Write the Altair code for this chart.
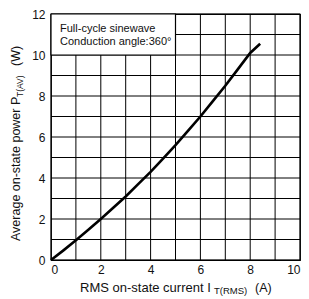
import altair as alt
import pandas as pd

# Curve
current = [0, 0.5, 1, 1.5, 2, 2.5, 3, 3.5, 4, 4.5, 5, 5.5, 6, 6.5, 7, 7.5, 8, 8.4]
power = [0, 0.47, 0.96, 1.47, 2.0, 2.55, 3.1, 3.7, 4.3, 4.95, 5.6, 6.3, 7.0, 7.75, 8.5, 9.3, 10.1, 10.55]

x_ticks = list(range(0, 11))
y_ticks = list(range(0, 13))

note_lines = ["Full-cycle sinewave", "Conduction angle:360°"]
box = {"x": 0, "x2": 5, "y": 10, "y2": 12}

FONT = "Liberation Sans"
W, H = 249, 246

df = pd.DataFrame({"I": current, "P": power})

xscale = alt.Scale(domain=[0, 10], nice=False)
yscale = alt.Scale(domain=[0, 12], nice=False)

xaxis = alt.Axis(values=x_ticks, grid=False, ticks=False, domain=False, title=None,
                 labelFont=FONT, labelFontSize=12, labelColor="#111", labelPadding=4,
                 labelExpr="datum.value % 2 == 0 ? datum.label : ''")
yaxis = alt.Axis(values=y_ticks, grid=False, ticks=False, domain=False, title=None,
                 labelFont=FONT, labelFontSize=12, labelColor="#111", labelPadding=6,
                 labelExpr="datum.value % 2 == 0 ? datum.label : ''")

vgrid = alt.Chart(pd.DataFrame({"v": x_ticks})).mark_rule(color="#000", strokeWidth=1).encode(
    x=alt.X("v:Q", scale=xscale, axis=xaxis), y=alt.value(0), y2=alt.value(H))
hgrid = alt.Chart(pd.DataFrame({"v": y_ticks})).mark_rule(color="#000", strokeWidth=1).encode(
    y=alt.Y("v:Q", scale=yscale, axis=yaxis), x=alt.value(0), x2=alt.value(W))

curve = alt.Chart(df).mark_line(color="#000", strokeWidth=2.6).encode(
    x=alt.X("I:Q", scale=xscale),
    y=alt.Y("P:Q", scale=yscale),
)

box_df = pd.DataFrame([box])
rect = alt.Chart(box_df).mark_rect(fill="white", stroke="#000", strokeWidth=1.2).encode(
    x=alt.X("x:Q", scale=xscale), x2="x2:Q",
    y=alt.Y("y:Q", scale=yscale), y2="y2:Q",
)

def txt(s, x, y, size, angle=0, baseline="alphabetic"):
    return alt.Chart(pd.DataFrame({"t": [s]})).mark_text(
        text=s, font=FONT, fontSize=size, color="#111", align="left",
        baseline=baseline, angle=angle,
    ).encode(x=alt.value(x), y=alt.value(y))

layers = [vgrid, hgrid, curve, rect,
          txt(note_lines[0], 9, 18, 11),
          txt(note_lines[1], 9, 30.5, 11),
          # x title
          txt("RMS on-state current  I", 29, 278, 13),
          txt("T(RMS)", 163, 279.5, 9.5),
          txt("(A)", 204, 278, 12.5),
          # y title (reads upward)
          txt("Average on-state power  P", -31, 227, 12.5, angle=270),
          txt("T(AV)", -28, 83, 8.5, angle=270),
          txt("(W)", -31, 52, 12.5, angle=270),
          ]

chart = alt.layer(*layers).properties(
    width=W, height=H,
    autosize=alt.AutoSizeParams(type="none"),
    padding={"left": 43, "top": 6, "right": 1, "bottom": 36},
).configure_view(stroke="#000", strokeWidth=1.2)

chart.save("out.html", embed_options={"renderer": "svg", "actions": False})
